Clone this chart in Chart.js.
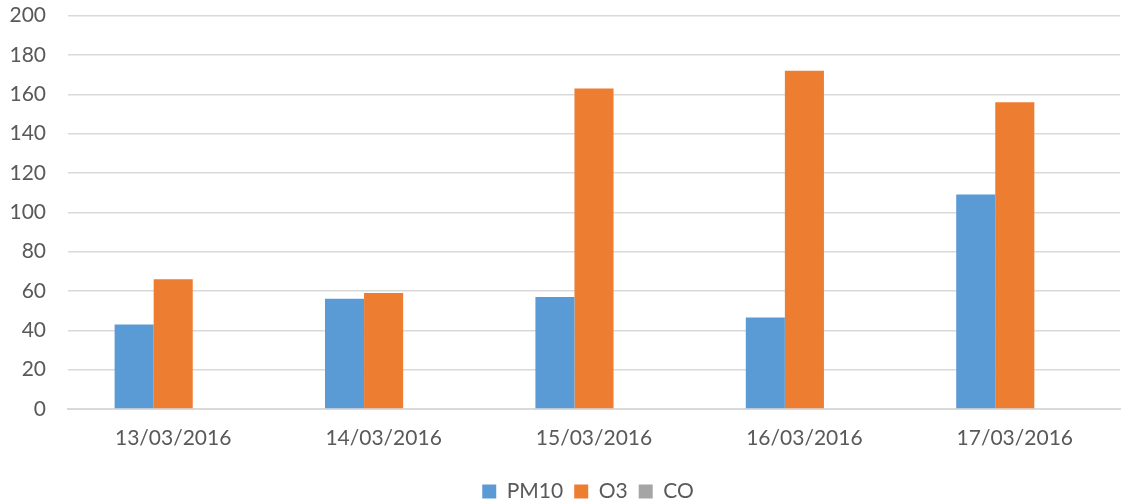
<!DOCTYPE html>
<html>
<head>
<meta charset="utf-8">
<script src="https://cdn.jsdelivr.net/npm/chart.js@4"></script>
<style>
  html, body { margin: 0; padding: 0; background: #fff; overflow: hidden; }
  #wrap { width: 1125px; height: 504px; overflow: hidden; position: relative; }
  #chart { position: absolute; left: 0; top: -19px; }
</style>
</head>
<body>
<div id="wrap"><canvas id="chart" width="1125" height="523"></canvas></div>
<script>
var dates = ["13/03/2016", "14/03/2016", "15/03/2016", "16/03/2016", "17/03/2016"];
var pm10 = [43, 56, 57, 46.5, 109];
var o3 = [66, 59, 163, 172, 156];
var co = [0, 0, 0, 0, 0];
var yTicks = [0, 20, 40, 60, 80, 100, 120, 140, 160, 180, 200];

var textColor = "#595959";
var fontFamily = "Lato, 'Open Sans', sans-serif";

function bars(label, values, color) {
    return {
        label: label,
        data: values,
        backgroundColor: color,
        borderWidth: 0,
        categoryPercentage: 0.557,
        barPercentage: 1.0
    };
}

// the legend in the picture sits a little right of the canvas centre
var shiftLegend = {
    id: "shiftLegend",
    afterLayout: function (chart) {
        var lg = chart.legend;
        lg.left += 28;
        lg.right += 28;
        lg.top += 8;
        lg.bottom += 8;
    }
};

new Chart(document.getElementById("chart"), {
    type: "bar",
    data: {
        labels: dates,
        datasets: [
            bars("PM10", pm10, "#5B9BD5"),
            bars("O3", o3, "#ED7D31"),
            bars("CO", co, "#A5A5A5")
        ]
    },
    plugins: [shiftLegend],
    options: {
        responsive: false,
        animation: false,
        layout: { padding: { top: 0, right: 5, left: 0, bottom: 0 } },
        plugins: {
            tooltip: { enabled: false },
            legend: {
                position: "bottom",
                labels: {
                    boxWidth: 14,
                    boxHeight: 14,
                    padding: 11,
                    color: textColor,
                    font: { family: fontFamily, size: 21 }
                }
            }
        },
        scales: {
            x: {
                grid: { display: false },
                border: { display: true, color: "#d9d9d9", width: 2 },
                ticks: {
                    color: textColor,
                    padding: 9,
                    font: { family: fontFamily, size: 21 }
                },
                afterFit: function (scale) { scale.height = 53; }
            },
            y: {
                min: 0,
                max: 200,
                afterBuildTicks: function (scale) {
                    scale.ticks = yTicks.map(function (v) { return { value: v }; });
                },
                grid: { color: "#d9d9d9", lineWidth: 1.5, drawTicks: false },
                border: { display: false },
                ticks: {
                    color: textColor,
                    padding: 22,
                    font: { family: fontFamily, size: 21 }
                },
                afterFit: function (scale) { scale.width = 68; }
            }
        }
    }
});
</script>
</body>
</html>
